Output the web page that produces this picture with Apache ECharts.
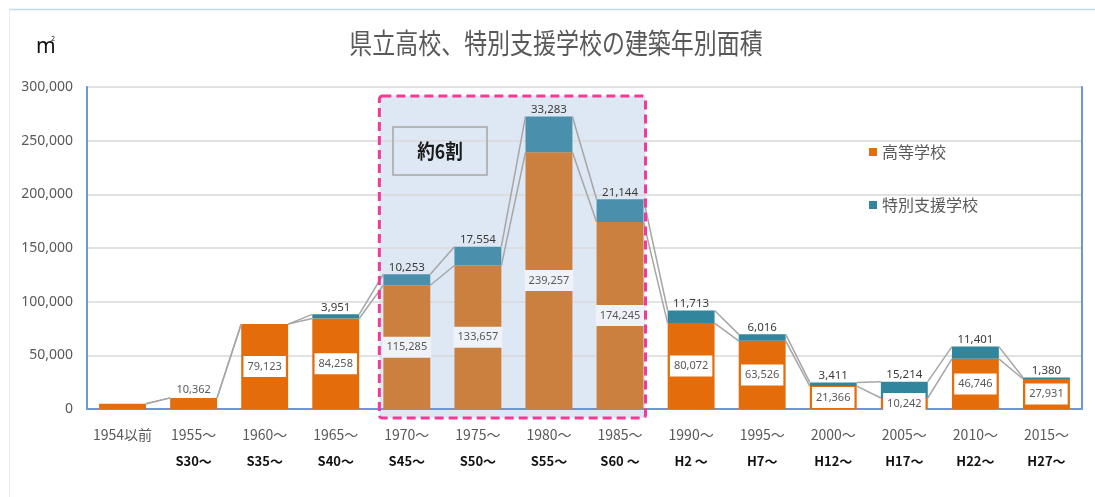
<!DOCTYPE html>
<html>
<head>
<meta charset="utf-8">
<script src="https://cdn.jsdelivr.net/npm/echarts@6/dist/echarts.min.js"></script>
<style>
  html, body { margin: 0; padding: 0; background: #fff; }
  #chart { width: 1095px; height: 497px; }
</style>
</head>
<body>
<div id="chart"></div>
<script>
// Floor area of prefectural high schools / special-support schools by construction period
const categories = ['1954以前', '1955～', '1960～', '1965～', '1970～', '1975～', '1980～',
  '1985～', '1990～', '1995～', '2000～', '2005～', '2010～', '2015～'];
const eraLabels = ['', 'S30～', 'S35～', 'S40～', 'S45～', 'S50～', 'S55～',
  'S60 ～', 'H2 ～', 'H7～', 'H12～', 'H17～', 'H22～', 'H27～'];
const highSchool = [4800, 10362, 79123, 84258, 115285, 133657, 239257,
  174245, 80072, 63526, 21366, 10242, 46746, 27931];
const specialSupport = [0, 0, 0, 3951, 10253, 17554, 33283,
  21144, 11713, 6016, 3411, 15214, 11401, 1380];
const seriesNames = ['高等学校', '特別支援学校'];
const titleText = '県立高校、特別支援学校の建築年別面積';
const noteText = '約6割';

// first and last category inside the highlighted period
const highlightFrom = 4, highlightTo = 7;

const ORANGE = '#E46C0A', TEAL = '#31859C';
const ORANGE_HL = '#CB8040', TEAL_HL = '#4A8FAC';
const CJK = '"Noto Sans CJK JP", "Noto Sans", sans-serif';
const LATIN = '"Noto Sans", "Noto Sans CJK JP", sans-serif';
const fmt = v => Number(v).toLocaleString('en-US');
const inHL = i => i >= highlightFrom && i <= highlightTo;

const totals = highSchool.map((v, i) => v + specialSupport[i]);

const highData = highSchool.map((v, i) => {
  const item = { value: v };
  if (inHL(i)) item.itemStyle = { color: ORANGE_HL };
  if (i === 0) item.label = { show: false };
  else if (specialSupport[i] === 0 && v < 20000) {
    // short bar without a stacked part: value sits above it
    item.label = { position: 'top', distance: 3, backgroundColor: 'transparent', padding: 0 };
  } else if (inHL(i)) {
    item.label = { backgroundColor: '#EFF2F8' };
  }
  return item;
});
const specialData = specialSupport.map((v, i) =>
  inHL(i) ? { value: v, itemStyle: { color: TEAL_HL } } : { value: v });

// connector segments between neighbouring bars (top of orange part and top of stack)
const linkData = categories.slice(0, -1).map((c, i) =>
  [i, highSchool[i], highSchool[i + 1], totals[i], totals[i + 1]]);

const BAR_FRACTION = 0.66;

const chart = echarts.init(document.getElementById('chart'));
chart.setOption({
  animation: false,
  backgroundColor: '#fff',
  grid: { left: 87, right: 13, top: 87, bottom: 88 },
  legend: {
    data: seriesNames,
    orient: 'vertical',
    left: 864, top: 137,
    itemWidth: 8, itemHeight: 8, itemGap: 33,
    icon: 'rect',
    textStyle: { color: '#595959', fontSize: 16, fontFamily: CJK, lineHeight: 20 }
  },
  xAxis: [{
    type: 'category',
    data: categories,
    axisTick: { show: false },
    axisLine: { lineStyle: { color: '#C8C8C8', width: 1.5 } },
    axisLabel: {
      interval: 0, margin: 14,
      formatter: (v, i) => eraLabels[i] ? `{a|${v}}\n{b|${eraLabels[i]}}` : `{a|${v}}`,
      rich: {
        a: { fontSize: 14, color: '#595959', lineHeight: 24, fontFamily: CJK },
        b: { fontSize: 13, color: '#111', fontWeight: 'bold', lineHeight: 28, fontFamily: CJK }
      }
    }
  }, {
    type: 'category', position: 'top', data: categories,
    axisTick: { show: false }, axisLabel: { show: false },
    axisLine: { lineStyle: { color: '#6C96D4', width: 2 } }
  }],
  yAxis: [{
    type: 'value', min: 0, max: 300000, interval: 50000,
    axisLine: { show: true, lineStyle: { color: '#6C96D4', width: 2 } },
    axisTick: { show: false },
    axisLabel: { color: '#595959', fontSize: 14, margin: 14, fontFamily: LATIN, formatter: fmt },
    splitLine: { lineStyle: { color: '#D9D9D9', width: 1.5 } }
  }, {
    type: 'value', min: 0, max: 300000, interval: 50000, position: 'right',
    axisLine: { show: true, lineStyle: { color: '#6C96D4', width: 2 } },
    axisTick: { show: false }, axisLabel: { show: false }, splitLine: { show: false }
  }],
  series: [{
    name: seriesNames[0], type: 'bar', stack: 'area',
    barCategoryGap: '34%',
    itemStyle: { color: ORANGE },
    data: highData,
    label: {
      show: true, position: 'inside', formatter: p => fmt(p.value),
      color: '#595959', fontSize: 11, fontFamily: LATIN,
      backgroundColor: '#fff', padding: [5, 4]
    }
  }, {
    name: seriesNames[1], type: 'bar', stack: 'area',
    barCategoryGap: '34%',
    itemStyle: { color: TEAL },
    data: specialData,
    label: {
      show: true, position: 'top', distance: 1,
      formatter: p => p.value ? fmt(p.value) : '',
      color: '#3A3A3A', fontSize: 11.5, fontFamily: LATIN
    }
  }, {
    type: 'custom', z: 3, silent: true,
    data: linkData,
    renderItem: (params, api) => {
      const i = api.value(0);
      const w = api.size([1, 0])[0] * BAR_FRACTION;
      const pairs = [[api.value(1), api.value(2)], [api.value(3), api.value(4)]];
      return {
        type: 'group',
        children: pairs.map(([a, b]) => {
          const p0 = api.coord([i, a]);
          const p1 = api.coord([i + 1, b]);
          return {
            type: 'line',
            shape: { x1: p0[0] + w / 2, y1: p0[1], x2: p1[0] - w / 2, y2: p1[1] },
            style: { stroke: '#A6A6A6', lineWidth: 1.5 }
          };
        })
      };
    }
  }]
});

// highlighted period frame, placed from the axis scales
const pFrom = chart.convertToPixel({ gridIndex: 0 }, [categories[highlightFrom], 291500]);
const pTo = chart.convertToPixel({ gridIndex: 0 }, [categories[highlightTo], 0]);
const pNext = chart.convertToPixel({ gridIndex: 0 }, [categories[highlightFrom + 1], 0]);
const band = pNext[0] - pFrom[0];
const half = band * BAR_FRACTION / 2;
const boxX = pFrom[0] - half - 4;
const boxY = pFrom[1];
const boxW = (pTo[0] + half + 2) - boxX;
const boxH = (pTo[1] + 9) - boxY;

chart.setOption({
  graphic: [
    // page frame
    { type: 'line', z: 1, shape: { x1: 9, y1: 9.5, x2: 1095, y2: 9.5 },
      style: { stroke: '#C5DAE8', lineWidth: 1.5 } },
    { type: 'line', z: 1, shape: { x1: 9.5, y1: 9, x2: 9.5, y2: 497 },
      style: { stroke: '#EBEBEB', lineWidth: 1 } },
    // title
    { type: 'text', x: 556, y: 43, scaleX: 0.82, z: 5,
      style: { text: titleText, fill: '#595959', fontSize: 28, fontFamily: CJK,
        align: 'center', verticalAlign: 'middle' } },
    // unit
    { type: 'text', x: 36, y: 47, z: 5,
      style: { text: 'm', fill: '#111', fontSize: 21, fontFamily: LATIN, verticalAlign: 'middle' } },
    { type: 'text', x: 51, y: 39, z: 5,
      style: { text: '2', fill: '#111', fontSize: 7, fontFamily: LATIN, verticalAlign: 'middle' } },
    // highlight fill behind bars and grid lines
    { type: 'rect', z: -1, shape: { x: boxX, y: boxY, width: boxW, height: boxH },
      style: { fill: '#DEE7F4' } },
    // highlight dashed frame
    { type: 'rect', z: 100, shape: { x: boxX, y: boxY, width: boxW, height: boxH, r: 3 },
      style: { fill: 'none', stroke: '#F23A96', lineWidth: 3, lineDash: [9, 5] } },
    // note box
    { type: 'rect', z: 100, shape: { x: 393, y: 127, width: 94, height: 48 },
      style: { fill: 'none', stroke: '#A6A6A6', lineWidth: 1.5 } },
    { type: 'text', x: 440, y: 151, scaleX: 0.88, z: 101,
      style: { text: noteText, fill: '#1A1A1A', fontSize: 20, fontWeight: 'bold', fontFamily: CJK,
        align: 'center', verticalAlign: 'middle' } }
  ]
});
</script>
</body>
</html>
